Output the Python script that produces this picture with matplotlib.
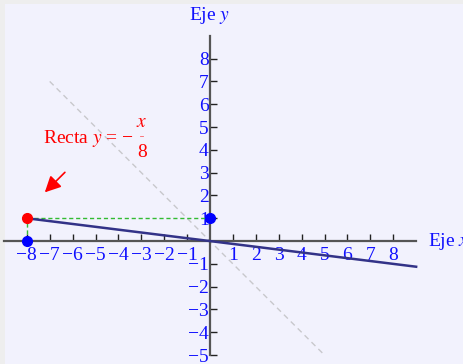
import matplotlib
matplotlib.use("Agg")
import matplotlib.pyplot as plt
from matplotlib.patches import Rectangle

plt.rcParams['font.family'] = ['Liberation Serif', 'DejaVu Serif']
plt.rcParams['mathtext.fontset'] = 'stix'

# data
recta_x = [-8, 9]
recta_y = [-x / 8 for x in recta_x]
diag_x = [-7, 5]
diag_y = [-x for x in diag_x]
punto_rojo = (-8, 1)
puntos_azules_x = [-8, 0]
puntos_azules_y = [0, 1]
xticks = [-8, -7, -6, -5, -4, -3, -2, -1, 1, 2, 3, 4, 5, 6, 7, 8]
yticks = [-5, -4, -3, -2, -1, 1, 2, 3, 4, 5, 6, 7, 8]

azul = '#1010ff'
rojo = '#ff0000'
eje = '#555555'

fig = plt.figure(figsize=(4.64, 3.64), dpi=100)
fig.patch.set_facecolor('#eeeeee')
fondo = Rectangle((5 / 464, 0), 1, 1 - 4 / 364, transform=fig.transFigure,
                  facecolor='#f2f2fd', edgecolor='none', zorder=-5)
fig.add_artist(fondo)
ax = fig.add_axes([0, 0, 1, 1])
ax.patch.set_visible(False)
ax.set_xlim(-9.17, 11.09)
ax.set_ylim(-5.39, 10.57)

for s in ['top', 'right']:
    ax.spines[s].set_visible(False)
ax.spines['left'].set_position(('data', 0))
ax.spines['bottom'].set_position(('data', 0))
ax.spines['left'].set_bounds(-5, 9)
ax.spines['bottom'].set_bounds(-9, 9)
for s in ['left', 'bottom']:
    ax.spines[s].set_color(eje)
    ax.spines[s].set_linewidth(1.6)
    ax.spines[s].set_zorder(2)

ax.set_xticks(xticks)
ax.set_yticks(yticks)
ax.set_xticklabels([str(t).replace('-', '\u2212') for t in xticks])
ax.set_yticklabels([str(t).replace('-', '\u2212') for t in yticks])
ax.tick_params(axis='x', direction='in', length=5, width=1, color='#222222',
               labelcolor=azul, labelsize=14, pad=4)
ax.tick_params(axis='y', direction='in', length=5, width=1, color='#222222',
               labelcolor=azul, labelsize=14, pad=1)

# diagonal gris
ax.plot(diag_x, diag_y, color='#c8c8cc', lw=1, ls=(0, (4, 3)), zorder=1)

# lineas verdes
ax.plot([-8, -8], [0, 1], color='#33bb33', lw=1, ls=(0, (3, 2)), zorder=3)
ax.plot([-8, 0], [1, 1], color='#33bb33', lw=1, ls=(0, (3, 2)), zorder=3)

# recta
ax.plot(recta_x, recta_y, color='#333388', lw=1.8, zorder=4)

ax.plot(puntos_azules_x, puntos_azules_y, 'o', color='#0000ff', ms=7, zorder=5)
ax.plot(*punto_rojo, 'o', color=rojo, ms=7, zorder=5)

ax.annotate('', xy=(-7.3, 2.05), xytext=(-6.25, 3.1),
            arrowprops=dict(arrowstyle='-|>', color=rojo, lw=1.2,
                            mutation_scale=24))
ax.text(-7.3, 4.5, 'Recta $y$ = \u2212', color=rojo, fontsize=14,
        ha='left', va='center')
ax.text(-2.97, 5.2, r'$x$', color=rojo, fontsize=14, ha='center', va='center')
ax.text(-2.97, 3.9, '8', color=rojo, fontsize=14, ha='center', va='center')
ax.plot([-3.05, -2.92], [4.6, 4.6], color=rojo, lw=0.6, alpha=0.6)

ax.text(0, 9.9, 'Eje $y$', color=azul, fontsize=14, ha='center', va='center')
ax.text(9.5, 0, 'Eje $x$', color=azul, fontsize=14, ha='left', va='center')

fig.savefig('out.png', dpi=100)
